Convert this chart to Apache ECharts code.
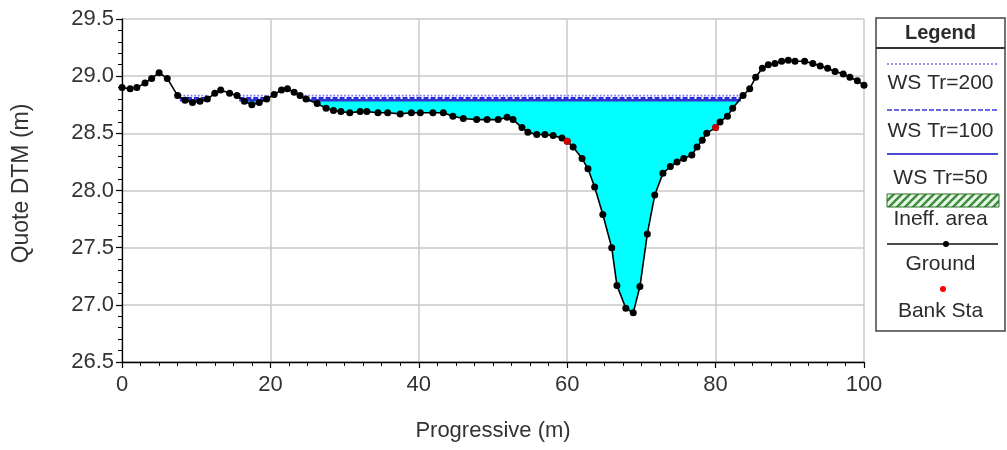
<!DOCTYPE html>
<html><head><meta charset="utf-8">
<script src="https://cdn.jsdelivr.net/npm/echarts@6/dist/echarts.min.js"></script>
<style>html,body{margin:0;padding:0;background:#fff}#c{width:1007px;height:450px}</style>
</head><body><div id="c"></div>
<script>
// Ground profile (station m, elevation m)
const groundX = [0, 1.1, 2.0, 3.1, 4.0, 5.0, 6.1, 7.5, 8.5, 9.5, 10.5, 11.5, 12.5, 13.3, 14.5, 15.5, 16.5, 17.5, 18.5, 19.5,
  20.5, 21.5, 22.3, 23.2, 24.0, 24.8, 26.3, 27.5, 28.5, 29.5, 30.7, 32.1, 33.0, 34.5, 35.8, 37.5, 39.0, 40.2, 41.9, 43.3,
  44.6, 46.0, 47.8, 49.2, 50.7, 51.9, 52.7, 53.9, 54.7, 55.9, 57.0, 58.1, 59.3, 60.0, 60.8, 62.0, 62.8, 63.7, 64.8, 66.0,
  66.7, 67.9, 68.9, 69.8, 70.8, 71.8, 72.9, 73.9, 74.8, 75.7, 76.8, 77.5, 78.2, 78.8, 80.0, 80.6, 81.6, 82.3, 83.7, 84.6,
  85.4, 86.3, 87.1, 88.0, 88.9, 89.8, 90.7, 92.0, 93.1, 94.1, 95.1, 96.1, 97.2, 98.1, 99.1, 100];
const groundY = [28.90, 28.89, 28.90, 28.94, 28.98, 29.03, 28.98, 28.83, 28.79, 28.77, 28.78, 28.80, 28.85, 28.88, 28.85, 28.83, 28.78, 28.75, 28.77, 28.80,
  28.84, 28.88, 28.89, 28.86, 28.83, 28.80, 28.76, 28.72, 28.70, 28.69, 28.68, 28.69, 28.69, 28.68, 28.68, 28.67, 28.68, 28.68, 28.68, 28.68,
  28.65, 28.63, 28.62, 28.62, 28.62, 28.64, 28.62, 28.55, 28.51, 28.49, 28.49, 28.48, 28.46, 28.43, 28.38, 28.28, 28.19, 28.03, 27.79, 27.50,
  27.17, 26.97, 26.93, 27.16, 27.62, 27.96, 28.15, 28.21, 28.25, 28.28, 28.31, 28.38, 28.44, 28.50, 28.55, 28.60, 28.65, 28.72, 28.83, 28.89,
  28.99, 29.07, 29.10, 29.11, 29.13, 29.14, 29.13, 29.13, 29.11, 29.09, 29.07, 29.04, 29.02, 28.99, 28.96, 28.92];
// Bank stations
const bankX = [60.0, 80.0];
const bankY = [28.43, 28.55];
// Water surface levels
const wsTr200 = 28.83;
const wsTr100 = 28.81;
const wsTr50 = 28.79;
// Wet reaches (start, end stations)
const wsReaches = [[7.8, 11.6], [15.8, 19.8], [24.6, 83.4]];
// Axis ticks
const xTicks = [0, 20, 40, 60, 80, 100];
const yTicks = [26.5, 27.0, 27.5, 28.0, 28.5, 29.0, 29.5];

const FONT = '"Liberation Sans", Arial, sans-serif';
const chart = echarts.init(document.getElementById('c'), null, {renderer: 'canvas'});

const groundData = groundX.map((x, i) => [x, groundY[i]]);
const bankData = bankX.map((x, i) => [x, bankY[i]]);

function wsSeries(level, type, color, z, w) {
  return wsReaches.map(r => ({
    type: 'line', data: [[r[0], level], [r[1], level]], symbol: 'none', silent: true, z: z,
    lineStyle: {color: color, width: w, type: type}, animation: false
  }));
}

// water fill polygons: top edge = WS Tr=50, bottom edge = ground points inside each reach
const waterSeries = {
  type: 'custom', z: 1, silent: true,
  data: wsReaches.map((r, i) => [r[0], r[1], i]),
  encode: {x: [0, 1]},
  renderItem: function (params, api) {
    const a = api.value(0), b = api.value(1);
    const pts = [api.coord([a, wsTr50])];
    for (let i = 0; i < groundX.length; i++) {
      if (groundX[i] > a && groundX[i] < b) pts.push(api.coord([groundX[i], Math.min(groundY[i], wsTr50)]));
    }
    pts.push(api.coord([b, wsTr50]));
    return {type: 'polygon', shape: {points: pts}, style: {fill: '#00ffff', stroke: null}};
  }
};

// hatched pattern
const pc = document.createElement('canvas');
pc.width = 8; pc.height = 8;
const g = pc.getContext('2d');
g.fillStyle = '#eaf6ea'; g.fillRect(0, 0, 8, 8);
g.strokeStyle = '#3d8f3d'; g.lineWidth = 2.6;
g.beginPath(); g.moveTo(-2, 10); g.lineTo(10, -2); g.moveTo(-2, 2); g.lineTo(2, -2); g.moveTo(6, 10); g.lineTo(10, 6); g.stroke();

const LX = 876, LW = 129, LC = LX + LW / 2;
const txt = (t, y, bold) => ({
  type: 'text', x: LC, y: y, z: 100,
  style: {text: t, fontSize: bold ? 20 : 21, fontFamily: FONT, fontWeight: bold ? 'bold' : 'normal', fill: '#2b2b2b', align: 'center', verticalAlign: 'middle'}
});
const graphic = [
  {type: 'rect', shape: {x: LX, y: 18, width: LW, height: 313}, style: {fill: '#fff', stroke: '#444', lineWidth: 1.5}, z: 99},
  {type: 'line', shape: {x1: LX, y1: 48, x2: LX + LW, y2: 48}, style: {stroke: '#333', lineWidth: 2}, z: 100},
  txt('Legend', 33, true),
  {type: 'line', shape: {x1: 887, y1: 64, x2: 998, y2: 64}, style: {stroke: '#6f6fe8', lineWidth: 1.5, lineDash: [2, 2]}, z: 100},
  txt('WS Tr=200', 83),
  {type: 'line', shape: {x1: 887, y1: 110, x2: 998, y2: 110}, style: {stroke: '#3838e0', lineWidth: 1.5, lineDash: [5, 2]}, z: 100},
  txt('WS Tr=100', 131),
  {type: 'line', shape: {x1: 887, y1: 154, x2: 998, y2: 154}, style: {stroke: '#4a4ad6', lineWidth: 2}, z: 100},
  txt('WS Tr=50', 178),
  {type: 'rect', shape: {x: 887, y: 194, width: 112, height: 13}, style: {fill: {image: pc, repeat: 'repeat'}, stroke: '#2f6f2f', lineWidth: 1}, z: 100},
  txt('Ineff. area', 219),
  {type: 'line', shape: {x1: 887, y1: 244, x2: 998, y2: 244}, style: {stroke: '#111', lineWidth: 1.6}, z: 100},
  {type: 'circle', shape: {cx: 946, cy: 244, r: 3}, style: {fill: '#000'}, z: 101},
  txt('Ground', 264),
  {type: 'circle', shape: {cx: 943, cy: 289, r: 3}, style: {fill: '#ff0000'}, z: 101},
  txt('Bank Sta', 311)
];

const option = {
  animation: false,
  backgroundColor: '#fff',
  grid: {left: 122, right: 143, top: 19, bottom: 88},
  xAxis: {
    type: 'value', min: 0, max: 100, interval: 20,
    name: 'Progressive (m)', nameLocation: 'middle', nameGap: 58,
    nameTextStyle: {fontSize: 22, fontFamily: FONT, color: '#333'},
    axisLine: {show: true, lineStyle: {color: '#000', width: 1.3}},
    axisTick: {show: true, inside: false, length: 6, lineStyle: {color: '#000', width: 1.2}},
    minorTick: {show: true, splitNumber: 8, length: 4, lineStyle: {color: '#000', width: 1}},
    axisLabel: {fontSize: 22, fontFamily: FONT, color: '#333', margin: 12,
      formatter: v => xTicks.indexOf(v) >= 0 ? String(v) : ''},
    splitLine: {show: true, lineStyle: {color: '#c8c8c8', width: 1.5}}
  },
  yAxis: {
    type: 'value', min: 26.5, max: 29.5, interval: 0.5,
    name: 'Quote DTM (m)', nameLocation: 'middle', nameGap: 89,
    nameTextStyle: {fontSize: 23, fontFamily: FONT, color: '#333', padding: [0, 0, 0, 14]},
    axisLine: {show: true, lineStyle: {color: '#000', width: 1.3}},
    axisTick: {show: true, inside: false, length: 6, lineStyle: {color: '#000', width: 1.2}},
    minorTick: {show: true, splitNumber: 5, length: 4, lineStyle: {color: '#000', width: 1}},
    axisLabel: {fontSize: 22, fontFamily: FONT, color: '#333', margin: 8,
      formatter: v => yTicks.some(t => Math.abs(t - v) < 1e-6) ? v.toFixed(1) : ''},
    splitLine: {show: true, lineStyle: {color: '#c8c8c8', width: 1.5}}
  },
  series: [
    waterSeries,
    ...wsSeries(wsTr50, 'solid', '#3434cc', 3, 2.4),
    ...wsSeries(wsTr100, [5, 2], '#2a2ae0', 3, 2),
    ...wsSeries(wsTr200, 'dotted', '#7a7af0', 3, 1.8),
    {type: 'line', name: 'Ground', data: groundData, z: 5,
      symbol: 'circle', symbolSize: 7, itemStyle: {color: '#000'},
      lineStyle: {color: '#000', width: 1.6}},
    {type: 'scatter', name: 'Bank Sta', data: bankData, z: 6, symbol: 'circle', symbolSize: 7,
      itemStyle: {color: '#ff0000'}}
  ],
  graphic: graphic
};
chart.setOption(option);
</script>
</body></html>
